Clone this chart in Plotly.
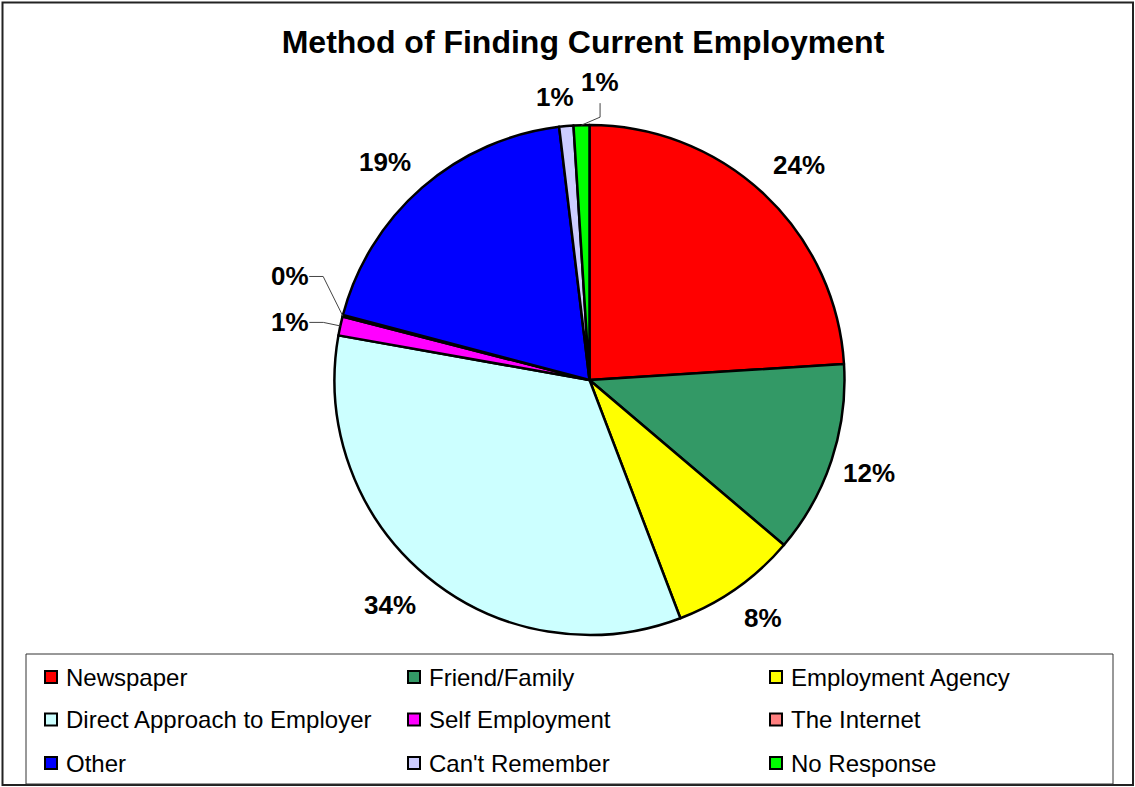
import math
import plotly.graph_objects as go

# Survey result: share of respondents by method of finding current employment (%)
categories = [
    "Newspaper", "Friend/Family", "Employment Agency",
    "Direct Approach to Employer", "Self Employment", "The Internet",
    "Other", "Can't Remember", "No Response",
]
shares = [24.0, 12.2, 8.0, 33.6, 1.2, 0.1, 19.0, 0.9, 1.0]
colors = [
    "#FF0000", "#339966", "#FFFF00",
    "#CCFFFF", "#FF00FF", "#FF8080",
    "#0000FF", "#CCCCFF", "#00FF00",
]

W, H = 1135, 787
FONT = "Liberation Sans, Arial, sans-serif"

# pie geometry in pixels
CX, CY, R = 589.5, 380.0, 255.0


def px(x):
    return x / W


def py(y):
    return 1 - y / H


total = sum(shares)
fig = go.Figure(go.Pie(
    labels=categories,
    values=shares,
    marker=dict(colors=colors, line=dict(color="black", width=2.5)),
    sort=False,
    direction="clockwise",
    rotation=0,
    textinfo="none",
    hoverinfo="label+percent",
    domain=dict(x=[px(CX - R), px(CX + R)], y=[py(CY + R), py(CY - R)]),
    showlegend=False,
))

# percentage labels placed around the pie at each slice's mid angle
label_radius = 300.0
nudge = {
    "Newspaper": (4, 4),
    "Friend/Family": (-5, -1),
    "Employment Agency": (0, -7),
    "Direct Approach to Employer": (-8, -6),
    "Other": (-8, 8),
    "Self Employment": (-6, 6),
    "The Internet": (-9, -28),
    "Can't Remember": (-7, 16),
    "No Response": (20, 2),
}
leader = {"Self Employment": "left", "The Internet": "left", "No Response": "below"}

annotations = []
shapes = []
cum = 0.0
for cat, v in zip(categories, shares):
    mid = (cum + v / 2) / total * 2 * math.pi
    cum += v
    s, c = math.sin(mid), math.cos(mid)
    dx, dy = nudge.get(cat, (0, 0))
    lx = CX + label_radius * s + dx
    ly = CY - label_radius * c + dy
    annotations.append(dict(
        x=px(lx), y=py(ly), xref="paper", yref="paper",
        text=f"{round(v / total * 100)}%", showarrow=False,
        xanchor="center", yanchor="middle",
        font=dict(family=FONT, size=26, color="black", weight="bold"),
    ))
    if cat in leader:
        ax, ay = CX + R * s, CY - R * c
        if leader[cat] == "left":
            pts = [(lx + 19, ly), (lx + 33, ly), (ax, ay)]
        else:
            pts = [(lx, ly + 21), (lx, ly + 35), (ax, ay)]
        path = "M " + " L ".join(f"{px(a):.5f},{py(b):.5f}" for a, b in pts)
        shapes.append(dict(type="path", xref="paper", yref="paper", path=path,
                           line=dict(color="#444444", width=1)))

# legend: three columns, row-major in category order
LEG_X0, LEG_X1, LEG_Y0, LEG_Y1 = 26, 1113, 654, 784
col_x = [45, 408, 770]
row_y = [677, 719.5, 763]
SQ = 12
shapes.append(dict(type="rect", xref="paper", yref="paper",
                   x0=px(LEG_X0), x1=px(LEG_X1), y0=py(LEG_Y1), y1=py(LEG_Y0),
                   line=dict(color="#333333", width=1), fillcolor="white"))
for i, (cat, col) in enumerate(zip(categories, colors)):
    x0 = col_x[i % 3]
    yc = row_y[i // 3]
    shapes.append(dict(type="rect", xref="paper", yref="paper",
                       x0=px(x0), x1=px(x0 + SQ), y0=py(yc + SQ / 2), y1=py(yc - SQ / 2),
                       fillcolor=col, line=dict(color="black", width=2)))
    annotations.append(dict(
        x=px(x0 + SQ + 7), y=py(yc), xref="paper", yref="paper",
        text=cat, showarrow=False, xanchor="left", yanchor="middle",
        font=dict(family=FONT, size=24, color="black"),
    ))

# outer chart frame
shapes.append(dict(type="rect", xref="paper", yref="paper",
                   x0=px(2.5), x1=px(1133), y0=py(785), y1=py(2.5),
                   line=dict(color="#222222", width=2), layer="below"))

fig.update_layout(
    width=W, height=H,
    margin=dict(l=0, r=0, t=0, b=0),
    paper_bgcolor="white",
    plot_bgcolor="white",
    showlegend=False,
    title=dict(
        text="<b>Method of Finding Current Employment</b>",
        x=px(583), y=py(42), xanchor="center", yanchor="middle",
        xref="paper", yref="paper",
        font=dict(family=FONT, size=32, color="black"),
    ),
    annotations=annotations,
    shapes=shapes,
)

fig.write_html("out.html")
